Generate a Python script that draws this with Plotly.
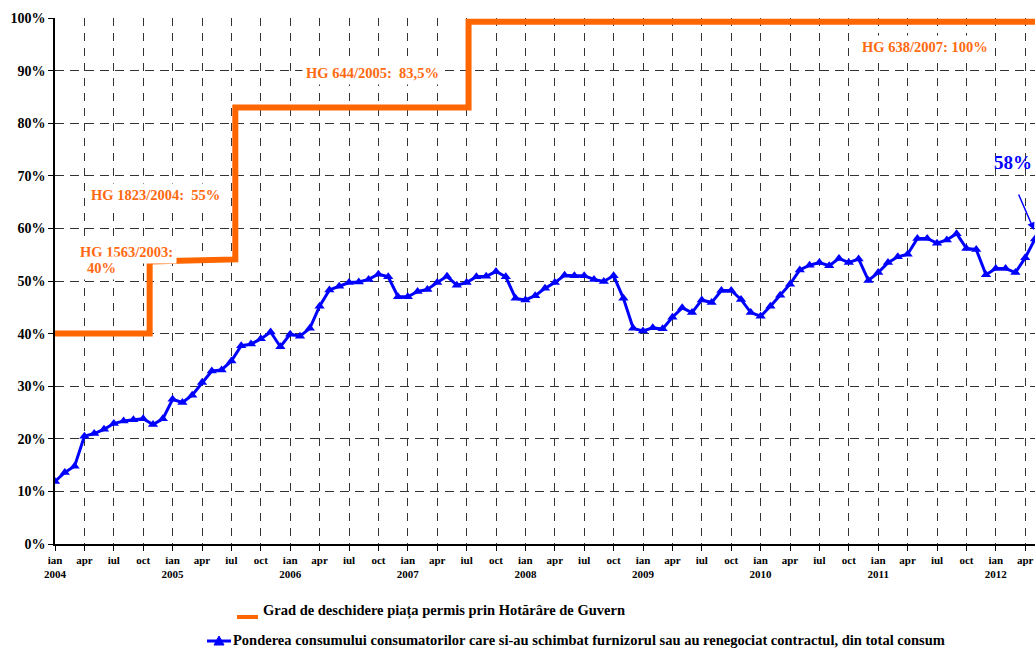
import plotly.graph_objects as go

# ---------------- data ----------------
month_names = ["ian", "feb", "mar", "apr", "mai", "iun", "iul", "aug", "sep", "oct", "noi", "dec"]
years = [2004, 2005, 2006, 2007, 2008, 2009, 2010, 2011, 2012]

pondere = [
    11.9, 13.6, 14.8, 20.5, 21.0, 21.8, 22.9, 23.4, 23.6, 23.8, 22.7, 23.8,   # 2004
    27.5, 26.9, 28.3, 30.7, 32.9, 33.1, 34.8, 37.7, 38.0, 39.0, 40.3, 37.5,   # 2005
    39.9, 39.5, 41.0, 45.2, 48.3, 49.0, 49.7, 49.8, 50.3, 51.3, 50.8, 47.0,   # 2006
    47.0, 48.0, 48.4, 49.7, 50.9, 49.2, 49.7, 50.8, 50.9, 51.8, 50.8, 46.7,   # 2007
    46.4, 47.2, 48.6, 49.7, 51.1, 51.0, 51.0, 50.3, 49.9, 51.0, 46.7, 41.0,   # 2008
    40.5, 41.1, 40.9, 43.1, 44.9, 44.0, 46.4, 45.9, 48.2, 48.2, 46.5, 44.0,   # 2009
    43.3, 45.2, 47.3, 49.4, 52.1, 53.0, 53.5, 52.9, 54.3, 53.5, 54.2, 50.1,   # 2010
    51.6, 53.5, 54.6, 55.1, 58.1, 58.1, 57.2, 57.8, 59.0, 56.2, 56.0, 51.2,   # 2011
    52.4, 52.4, 51.6, 54.4, 58.0,                                             # 2012
]
month_index = list(range(len(pondere)))

# Legal market-opening degree (step line), x in month index from ian 2004
grad_x = [0, 9.66, 9.66, 18.4, 18.4, 42.2, 42.2, 100]
grad_y = [40, 40, 53.7, 54.1, 83, 83, 99.3, 99.3]

label_grad = "Grad de deschidere piața permis prin Hotărâre de Guvern"
label_pondere = ("Ponderea consumului consumatorilor care si-au schimbat furnizorul "
                 "sau au renegociat contractul, din total consum")

hg_labels = ["HG 1563/2003:", "40%", "HG 1823/2004:\u00a0 55%", "HG 644/2005:\u00a0 83,5%", "HG 638/2007: 100%"]

tick_vals = list(range(0, 100, 3))
tick_text = []
for v in tick_vals:
    m = v % 12
    y = years[v // 12]
    tick_text.append(f"{month_names[m]}<br>{y}" if m == 0 else month_names[m])

y_vals = list(range(0, 101, 10))
y_text = [f"{v}%" for v in y_vals]

# ---------------- styling ----------------
FONT = "Liberation Serif"
ORANGE = "#FF6600"
ORANGE_TXT = "#FF6A10"
BLUE = "#0000FF"

L, R, T, B = 55, 1035, 18, 544


def pxx(p):
    return (p - L) / (R - L)


def pxy(p):
    return (B - p) / (B - T)


fig = go.Figure()
fig.add_trace(go.Scatter(x=grad_x, y=grad_y, mode="lines",
                         line=dict(color=ORANGE, width=6), name=label_grad,
                         showlegend=False))
fig.add_trace(go.Scatter(x=month_index, y=pondere, mode="lines+markers",
                         line=dict(color=BLUE, width=3),
                         marker=dict(symbol="triangle-up", size=9, color=BLUE),
                         name=label_pondere, showlegend=False))

fig.update_layout(
    width=1035, height=648,
    margin=dict(l=L, r=1035 - R, t=T, b=648 - B),
    paper_bgcolor="white", plot_bgcolor="white",
    font=dict(family=FONT, color="black"),
)
fig.update_xaxes(
    range=[0, 100], tickmode="array", tickvals=tick_vals, ticktext=tick_text,
    tickfont=dict(family=FONT, size=11, color="black", weight="bold"),
    ticks="outside", ticklen=5, tickcolor="black",
    showline=True, linecolor="black", linewidth=1.5,
    showgrid=True, gridcolor="#333333", gridwidth=1, griddash="8px,7px",
    zeroline=False,
)
fig.update_yaxes(
    range=[0, 100], tickmode="array", tickvals=y_vals, ticktext=y_text,
    tickfont=dict(family=FONT, size=14, color="black", weight="bold"),
    ticks="outside", ticklen=5, tickcolor="black",
    showline=True, linecolor="black", linewidth=1.5,
    showgrid=True, gridcolor="#333333", gridwidth=1, griddash="9px,6px",
    zeroline=False,
)

ann_font = dict(family=FONT, size=14.5, color=ORANGE_TXT, weight="bold")
positions = [(76, 252), (83, 268), (87, 195), (302, 73), (858, 47)]
for txt, (px, py) in zip(hg_labels, positions):
    fig.add_annotation(xref="paper", yref="paper", x=pxx(px), y=pxy(py),
                       xanchor="left", yanchor="middle", text=txt, showarrow=False,
                       font=ann_font, bgcolor="white", borderpad=3)

# 58% callout
fig.add_annotation(xref="paper", yref="paper", x=pxx(992), y=pxy(163),
                   xanchor="left", yanchor="middle", text="58%", showarrow=False,
                   font=dict(family=FONT, size=19, color=BLUE, weight="bold"))
fig.add_annotation(xref="paper", yref="paper", x=pxx(1035), y=pxy(230), text="",
                   showarrow=True, ax=-17, ay=-37, arrowcolor=BLUE, arrowwidth=1.5,
                   arrowhead=2, arrowsize=1, standoff=0)

# manual legend
leg_font = dict(family=FONT, size=14.5, color="black", weight="bold")
fig.add_shape(type="line", xref="paper", yref="paper",
              x0=pxx(237), x1=pxx(258), y0=pxy(617), y1=pxy(617),
              line=dict(color=ORANGE, width=4))
fig.add_annotation(xref="paper", yref="paper", x=pxx(261), y=pxy(610),
                   xanchor="left", yanchor="middle", text=label_grad, showarrow=False,
                   font=leg_font)
fig.add_shape(type="line", xref="paper", yref="paper",
              x0=pxx(207), x1=pxx(231), y0=pxy(641), y1=pxy(641),
              line=dict(color=BLUE, width=3))
tri = f"M {pxx(214)} {pxy(645)} L {pxx(224)} {pxy(645)} L {pxx(219)} {pxy(636)} Z"
fig.add_shape(type="path", xref="paper", yref="paper", path=tri,
              fillcolor=BLUE, line=dict(color=BLUE, width=1))
fig.add_annotation(xref="paper", yref="paper", x=pxx(231), y=pxy(640),
                   xanchor="left", yanchor="middle", text=label_pondere, showarrow=False,
                   font=leg_font)

fig.write_html("out.html", config={"displayModeBar": False},
               post_script="document.body.style.margin='0px';document.body.style.overflow='hidden';")
